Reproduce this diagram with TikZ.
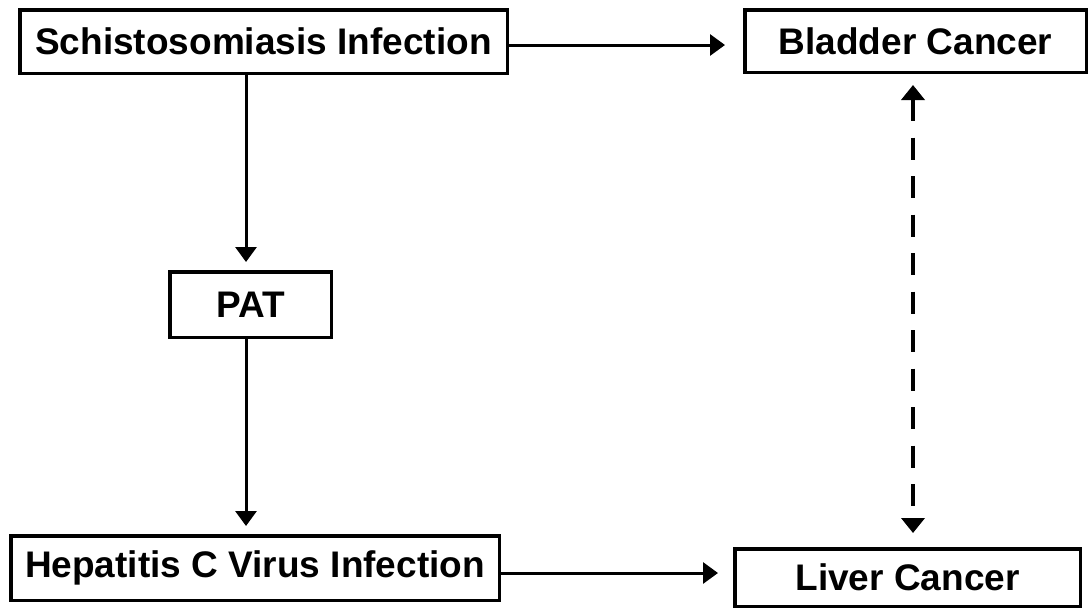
\documentclass[tikz,border=0pt]{standalone}
\usepackage{fontspec}
\setmainfont{Liberation Sans}
\usetikzlibrary{arrows.meta}
\begin{document}
\begin{tikzpicture}[x=1pt,y=1pt,
  box/.style={draw=black, line width=3.5pt, inner sep=0pt, fill=white,
    font=\fontsize{37}{40}\selectfont\bfseries, align=center},
  arr/.style={line width=3pt, -{Triangle[length=15pt,width=21pt]}},
  dasharr/.style={line width=4.5pt, dash pattern=on 22pt off 16.5pt,
    {Triangle[length=15pt,width=23pt]}-{Triangle[length=15pt,width=23pt]}}]
\useasboundingbox (0,0) rectangle (1089,-611);
\fill[white] (0,0) rectangle (1089,-611);
% nodes
\node[box, minimum width=487.5pt, minimum height=63.5pt] (schisto) at (263.5,-41.5) {Schistosomiasis Infection};
\node[box, minimum width=341.5pt, minimum height=62.5pt] (bladder) at (915.5,-41) {Bladder Cancer};
\node[box, minimum width=161.5pt, minimum height=65.5pt] (pat) at (250.5,-304.5) {PAT};
\node[box, minimum width=488.5pt, minimum height=64.5pt] (hep) at (255,-568) {Hepatitis C Virus Infection};
\node[box, minimum width=345.5pt, minimum height=57.5pt] (liver) at (907.5,-577.5) {Liver Cancer};
% guide coordinates
\coordinate (colx) at (246,0);
\coordinate (colz) at (913,0);
\coordinate (rowa) at (0,-45);
\coordinate (rowb) at (0,-573);
% connectors
\draw[arr] (schisto.south -| colx) -- ([yshift=8pt]pat.north -| colx);
\draw[arr] (pat.south -| colx) -- ([yshift=8pt]hep.north -| colx);
\draw[arr] (schisto.east |- rowa) -- ([xshift=-18pt]bladder.west |- rowa);
\draw[arr] (hep.east |- rowb) -- ([xshift=-15pt]liver.west |- rowb);
\draw[dasharr] ([yshift=-11pt]bladder.south -| colz) -- ([yshift=14pt]liver.north -| colz);
\end{tikzpicture}
\end{document}
